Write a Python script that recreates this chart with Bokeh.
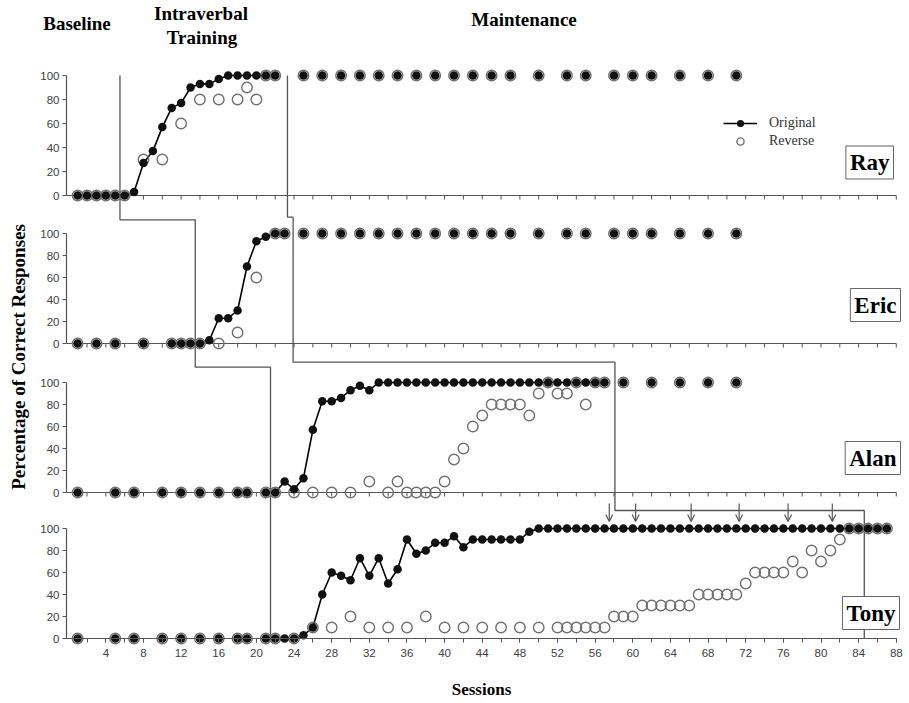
import numpy as np
from bokeh.plotting import figure
from bokeh.models import (Range1d, FixedTicker, Label, Legend, LegendItem,
                          Arrow, OpenHead, ColumnDataSource)
from bokeh.embed import file_html
from bokeh.resources import INLINE

# ---------------- data ----------------
maint_sessions = [25, 27, 29, 31, 33, 35, 37, 39, 41, 43, 45, 47, 50, 53, 55, 58, 60, 62, 65, 68, 71]
maint_values = [100, 100, 100, 100, 100, 100, 100, 100, 100, 100, 100, 100, 100, 100, 100, 100, 100, 100, 100, 100, 100]

ray_orig_s = [1, 2, 3, 4, 5, 6, 7, 8, 9, 10, 11, 12, 13, 14, 15, 16, 17, 18, 19, 20, 21, 22] + maint_sessions
ray_orig_v = [0, 0, 0, 0, 0, 0, 3, 27, 37, 57, 73, 77, 90, 93, 93, 97, 100, 100, 100, 100, 100, 100] + maint_values
ray_rev_s = [1, 2, 3, 4, 5, 6, 8, 10, 12, 14, 16, 18, 19, 20, 21, 22] + maint_sessions
ray_rev_v = [0, 0, 0, 0, 0, 0, 30, 30, 60, 80, 80, 80, 90, 80, 100, 100] + maint_values

eric_orig_s = [1, 3, 5, 8, 11, 12, 13, 14, 15, 16, 17, 18, 19, 20, 21, 22, 23] + maint_sessions
eric_orig_v = [0, 0, 0, 0, 0, 0, 0, 0, 3, 23, 23, 30, 70, 93, 97, 100, 100] + maint_values
eric_rev_s = [1, 3, 5, 8, 11, 12, 13, 14, 16, 18, 20, 22, 23] + maint_sessions
eric_rev_v = [0, 0, 0, 0, 0, 0, 0, 0, 0, 10, 60, 100, 100] + maint_values

alan_orig_s = [1, 5, 7, 10, 12, 14, 16, 18, 19, 21, 22, 23, 24, 25, 26, 27, 28, 29, 30, 31, 32,
               33, 34, 35, 36, 37, 38, 39, 40, 41, 42, 43, 44, 45, 46, 47, 48, 49, 50, 51, 52,
               53, 54, 55, 56, 57, 59, 62, 65, 68, 71]
alan_orig_v = [0, 0, 0, 0, 0, 0, 0, 0, 0, 0, 0, 10, 3, 13, 57, 83, 83, 86, 93, 97, 93,
               100, 100, 100, 100, 100, 100, 100, 100, 100, 100, 100, 100, 100, 100, 100, 100, 100, 100, 100, 100,
               100, 100, 100, 100, 100, 100, 100, 100, 100, 100]
alan_rev_s = [1, 5, 7, 10, 12, 14, 16, 18, 19, 21, 22, 24, 26, 28, 30, 32, 34, 35, 36, 37, 38, 39,
              40, 41, 42, 43, 44, 45, 46, 47, 48, 49, 50, 51, 52, 53, 54, 55, 56, 57, 59, 62, 65, 68, 71]
alan_rev_v = [0, 0, 0, 0, 0, 0, 0, 0, 0, 0, 0, 0, 0, 0, 0, 10, 0, 10, 0, 0, 0, 0,
              10, 30, 40, 60, 70, 80, 80, 80, 80, 70, 90, 100, 90, 90, 100, 80, 100, 100, 100, 100, 100, 100, 100]

tony_orig_s = [1, 5, 7, 10, 12, 14, 16, 18, 19, 21, 22, 23, 24, 25, 26, 27, 28, 29, 30, 31, 32, 33, 34,
               35, 36, 37, 38, 39, 40, 41, 42, 43, 44, 45, 46, 47, 48, 49, 50, 51, 52, 53, 54, 55, 56,
               57, 58, 59, 60, 61, 62, 63, 64, 65, 66, 67, 68, 69, 70, 71, 72, 73, 74, 75, 76, 77, 78,
               79, 80, 81, 82, 83, 84, 85, 86, 87]
tony_orig_v = [0, 0, 0, 0, 0, 0, 0, 0, 0, 0, 0, 0, 0, 3, 10, 40, 60, 57, 53, 73, 57, 73, 50,
               63, 90, 77, 80, 87, 87, 93, 83, 90, 90, 90, 90, 90, 90, 97, 100, 100, 100, 100, 100, 100, 100,
               100, 100, 100, 100, 100, 100, 100, 100, 100, 100, 100, 100, 100, 100, 100, 100, 100, 100, 100, 100, 100, 100,
               100, 100, 100, 100, 100, 100, 100, 100, 100]
tony_rev_s = [1, 5, 7, 10, 12, 14, 16, 18, 19, 21, 22, 24, 26, 28, 30, 32, 34, 36, 38, 40, 42, 44, 46,
              48, 50, 52, 53, 54, 55, 56, 57, 58, 59, 60, 61, 62, 63, 64, 65, 66, 67, 68, 69, 70, 71,
              72, 73, 74, 75, 76, 77, 78, 79, 80, 81, 82, 83, 84, 85, 86, 87]
tony_rev_v = [0, 0, 0, 0, 0, 0, 0, 0, 0, 0, 0, 0, 10, 10, 20, 10, 10, 10, 20, 10, 10, 10, 10,
              10, 10, 10, 10, 10, 10, 10, 10, 20, 20, 20, 30, 30, 30, 30, 30, 30, 40, 40, 40, 40, 40,
              50, 60, 60, 60, 60, 70, 60, 80, 70, 80, 90, 100, 100, 100, 100, 100]

participants = ["Ray", "Eric", "Alan", "Tony"]
orig_s = [ray_orig_s, eric_orig_s, alan_orig_s, tony_orig_s]
orig_v = [ray_orig_v, eric_orig_v, alan_orig_v, tony_orig_v]
rev_s = [ray_rev_s, eric_rev_s, alan_rev_s, tony_rev_s]
rev_v = [ray_rev_v, eric_rev_v, alan_rev_v, tony_rev_v]

# phase-change positions (in sessions) for each participant
phase_training = [5.5, 13.5, 21.5, 21.5]
phase_maint = [23.3, 23.9, 58.1, 84.6]
probe_sessions = [57.5, 60.3, 66.2, 71.3, 76.5, 81.2]   # arrows in Tony's panel

x_tick_labels = [4, 8, 12, 16, 20, 24, 28, 32, 36, 40, 44, 48, 52, 56, 60, 64, 68, 72, 76, 80, 84, 88]
x_minor_ticks = list(range(2, 89, 2))
y_tick_values = [0, 20, 40, 60, 80, 100]

# ---------------- layout (pixel geometry of the stacked panels) ----------------
W, H = 909, 703
X0_PX, PPS = 67.7, 9.41             # x pixel of session 0, pixels per session
PANEL_BASE0 = [195, 343, 492, 638]  # pixel row of 0 %
PANEL_H = [120, 110, 110, 110]      # pixels spanned by 0..100 %


def X(px):
    return (px - X0_PX) / PPS


def Y(px):
    return -px


def ypan(k, v):
    return -(PANEL_BASE0[k] - np.asarray(v, dtype=float) * PANEL_H[k] / 100.0)


x_axis_pos = X(66)
GREY = "#555555"
SERIF = "Liberation Serif"
SANS = "Liberation Sans"

p = figure(width=W, height=H, output_backend="svg", toolbar_location=None,
           x_range=Range1d(X(0), X(W)), y_range=Range1d(Y(H), Y(0)),
           min_border_left=0, min_border_right=0, min_border_top=0, min_border_bottom=0)
p.outline_line_color = None
p.xgrid.visible = False
p.ygrid.visible = False
p.background_fill_color = "white"

# ---- real y axis: ticks of all four panels ----
ytick_pos, overrides = [], {}
for k in range(4):
    for v in y_tick_values:
        pos = int(round(float(ypan(k, v))))
        ytick_pos.append(pos)
        overrides[pos] = str(v)
yax = p.yaxis[0]
yax.ticker = FixedTicker(ticks=ytick_pos, minor_ticks=[])
yax.major_label_overrides = overrides
yax.fixed_location = x_axis_pos
yax.bounds = (float(ypan(3, 0)), float(ypan(0, 100)))
yax.axis_line_color = None
yax.major_tick_out = 4
yax.major_tick_in = 0
yax.major_tick_line_color = GREY
yax.major_label_text_font = SANS
yax.major_label_text_font_size = "11.5px"
yax.major_label_text_color = "#404040"
yax.major_label_standoff = 3
yax.axis_label = "Percentage of Correct Responses"
yax.axis_label_text_font = SERIF
yax.axis_label_text_font_style = "bold"
yax.axis_label_text_font_size = "19px"
yax.axis_label_text_color = "black"
yax.axis_label_standoff = 8

# ---- real x axis (Tony's, labelled) ----
xax = p.xaxis[0]
xax.ticker = FixedTicker(ticks=x_tick_labels, minor_ticks=x_minor_ticks)
xax.fixed_location = float(ypan(3, 0))
xax.bounds = (x_axis_pos, 88)
xax.axis_line_color = GREY
xax.axis_line_width = 1.2
xax.major_tick_out = 4
xax.major_tick_in = 0
xax.minor_tick_out = 4
xax.minor_tick_in = 0
xax.major_tick_line_color = GREY
xax.minor_tick_line_color = GREY
xax.major_label_text_font = SANS
xax.major_label_text_font_size = "11.5px"
xax.major_label_text_color = "#404040"
xax.major_label_standoff = 6
xax.axis_label = "Sessions"
xax.axis_label_text_font = SERIF
xax.axis_label_text_font_style = "bold"
xax.axis_label_text_font_size = "17px"
xax.axis_label_text_color = "black"
xax.axis_label_standoff = 20

# ---- panel frames: vertical axis lines, and x axes of the upper three panels ----
for k in range(4):
    p.segment(x0=[x_axis_pos], y0=[float(ypan(k, 0))], x1=[x_axis_pos], y1=[float(ypan(k, 100))],
              line_color=GREY, line_width=1.2)
for k in range(3):
    y0 = float(ypan(k, 0))
    p.segment(x0=[x_axis_pos], y0=[y0], x1=[88], y1=[y0], line_color=GREY, line_width=1.2)
    p.segment(x0=x_minor_ticks, y0=[y0] * len(x_minor_ticks), x1=x_minor_ticks,
              y1=[y0 - 4] * len(x_minor_ticks), line_color=GREY, line_width=1)

# ---- phase-change lines ----
top = float(ypan(0, 100))
line_a_x = [phase_training[0], phase_training[0], phase_training[1], phase_training[1],
            phase_training[2], phase_training[3]]
line_a_y = [top, Y(219.3), Y(219.3), Y(366.7), Y(366.7), float(ypan(3, 0))]
p.line(line_a_x, line_a_y, line_color=GREY, line_width=1.3)
line_b_x = [phase_maint[0], phase_maint[0], phase_maint[1], phase_maint[1], phase_maint[2],
            phase_maint[2], phase_maint[3], phase_maint[3]]
line_b_y = [top, Y(216.7), Y(216.7), Y(361.7), Y(361.7), Y(510), Y(510), float(ypan(3, 0))]
p.line(line_b_x, line_b_y, line_color=GREY, line_width=1.3)

arrow_src = ColumnDataSource(dict(x=probe_sessions, y0=[Y(503)] * len(probe_sessions),
                                  y1=[Y(521)] * len(probe_sessions)))
p.add_layout(Arrow(end=OpenHead(size=7, line_color=GREY, line_width=1.2),
                   x_start="x", y_start="y0", x_end="x", y_end="y1", source=arrow_src,
                   line_color=GREY, line_width=1.2))

# ---- data ----
legend_line = legend_dot = legend_rev = None
for k in range(4):
    s = np.asarray(orig_s[k], dtype=float)
    v = np.asarray(orig_v[k], dtype=float)
    mask = (s > phase_training[k]) & (s < phase_maint[k])
    ln = p.line(s[mask], ypan(k, v[mask]), line_color="black", line_width=1.6)
    rv = p.scatter(rev_s[k], ypan(k, rev_v[k]), marker="circle", size=10.5,
                   fill_color=None, line_color="#707070", line_width=1.4)
    dt = p.scatter(s, ypan(k, v), marker="circle", size=8.5, fill_color="#111111", line_color=None)
    if k == 0:
        legend_line, legend_dot, legend_rev = ln, dt, rv

# legend: bottom-left corner given in pixels from the frame's bottom-left corner
legend = Legend(items=[LegendItem(label="Original", renderers=[legend_line, legend_dot]),
                       LegendItem(label="Reverse", renderers=[legend_rev])],
                location=(723, H - 150), orientation="vertical",
                glyph_width=34, glyph_height=18, label_height=18, label_standoff=12,
                spacing=0, padding=0, margin=0,
                border_line_color=None, background_fill_alpha=0,
                label_text_font=SERIF, label_text_font_size="14px", label_text_color="#333333")
p.add_layout(legend)

# ---- participant name boxes ----
name_box = [(897, 162), (904, 304.5), (904, 457.5), (903, 612.5)]
for k, name in enumerate(participants):
    bx, by = name_box[k]
    p.add_layout(Label(x=X(bx - 4), y=Y(by), text=name, text_align="right", text_baseline="middle",
                       text_font=SERIF, text_font_style="bold", text_font_size="23px",
                       text_color="black", border_line_color="#666666", border_line_width=1,
                       background_fill_color="white", padding=4))

# ---- phase titles ----
for txt, cx, cy in [("Baseline", 76.5, 23), ("Intraverbal", 200.5, 13), ("Training", 201.5, 37),
                    ("Maintenance", 523.5, 19)]:
    p.add_layout(Label(x=X(cx), y=Y(cy), text=txt, text_align="center", text_baseline="middle",
                       text_font=SERIF, text_font_style="bold", text_font_size="19px",
                       text_color="black"))

open("out.html", "w").write(file_html(p, INLINE))
